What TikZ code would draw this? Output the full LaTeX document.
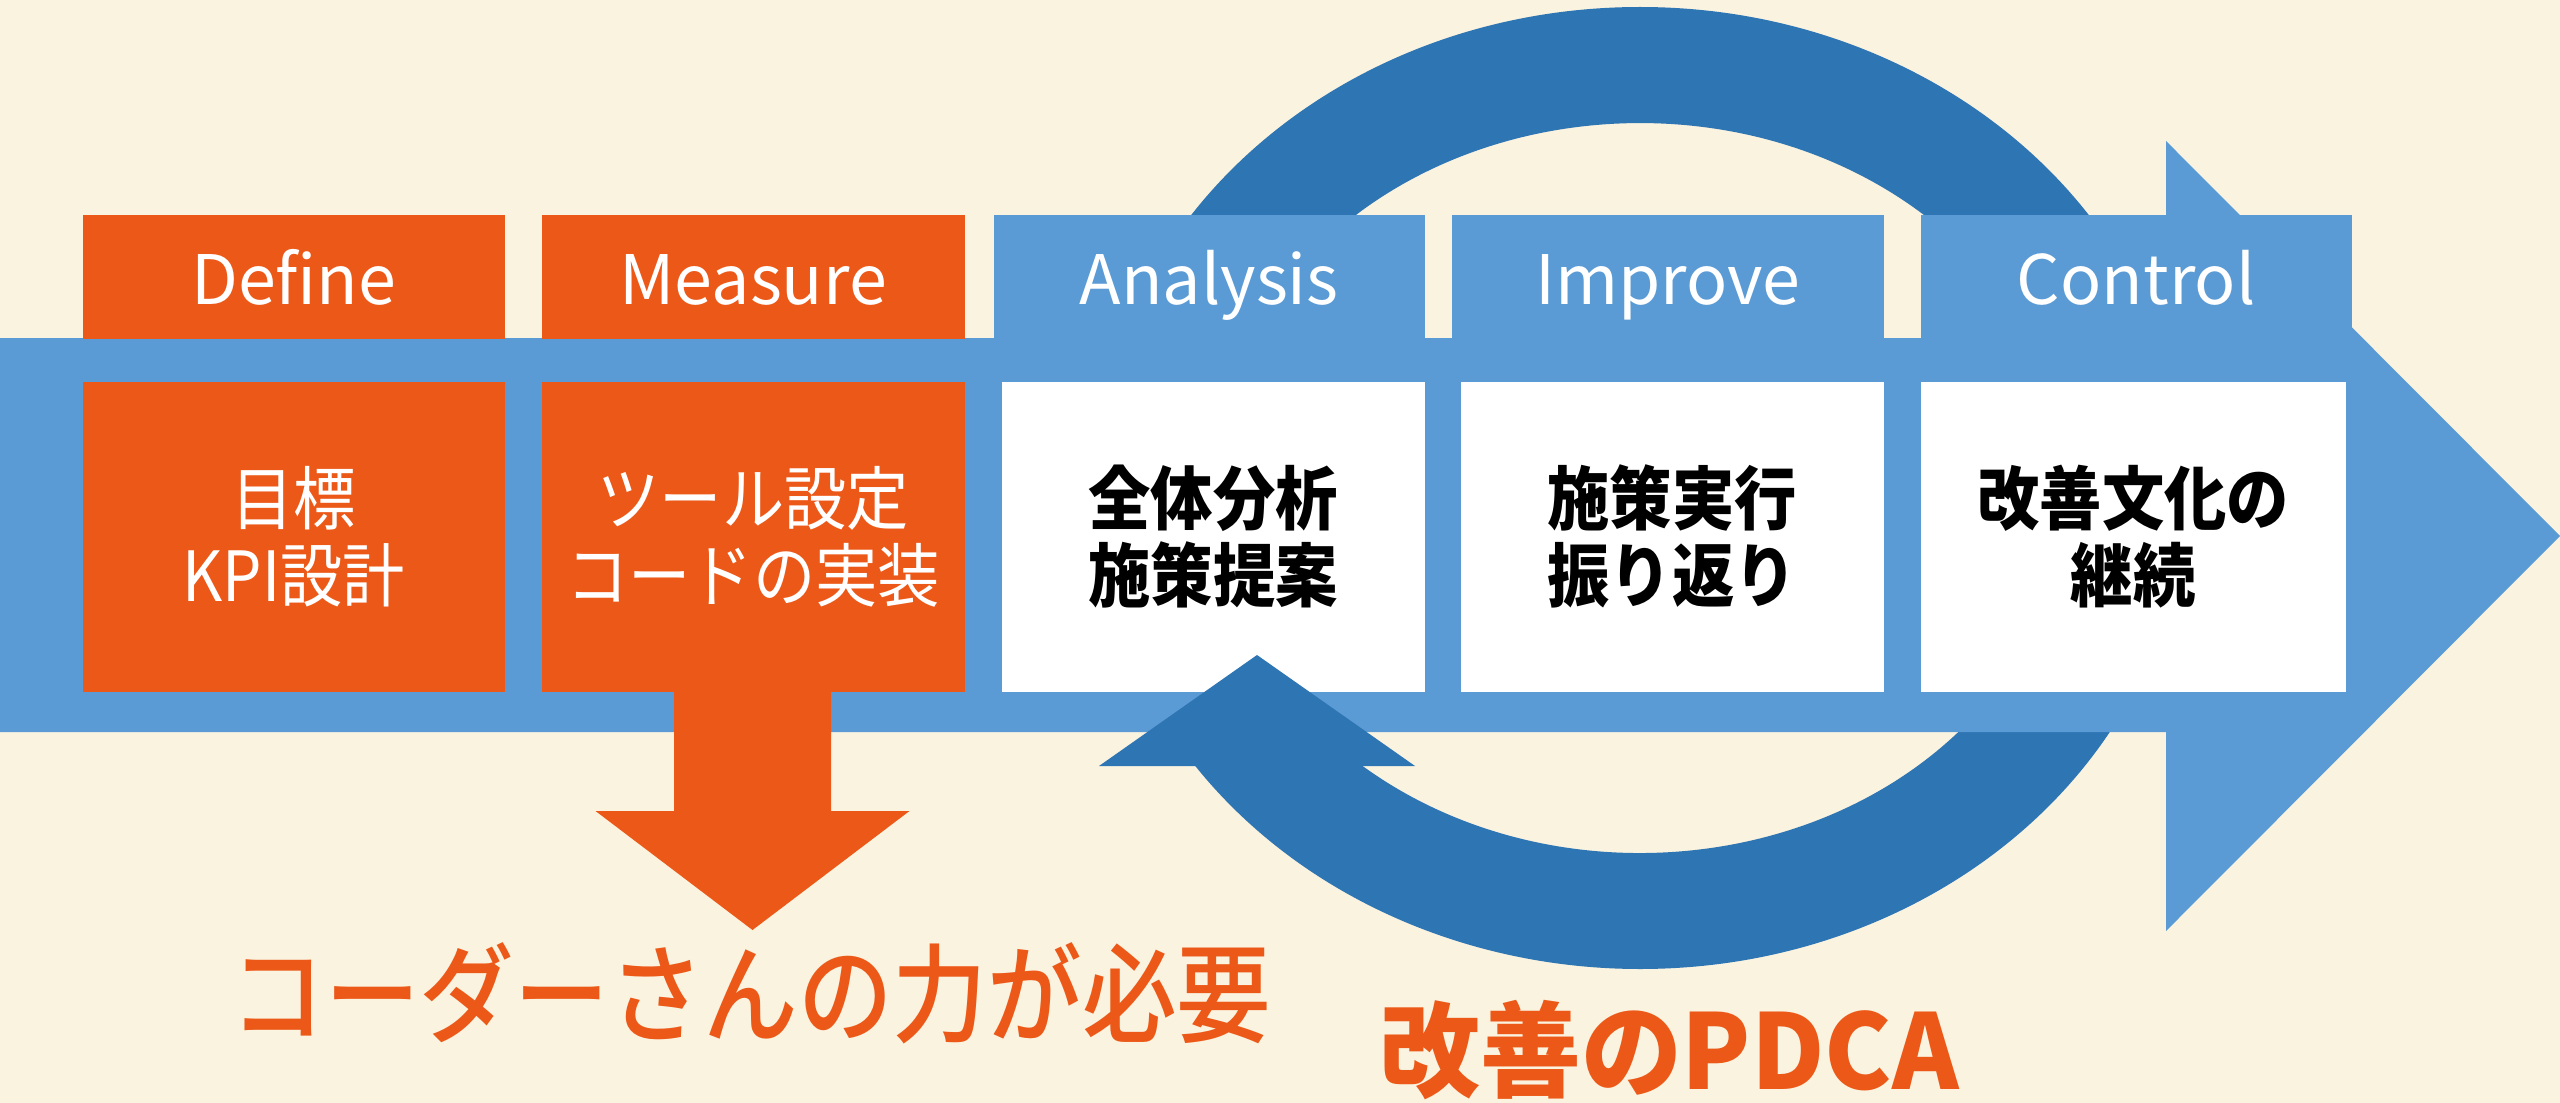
\documentclass[tikz,border=0pt]{standalone}
\usepackage{fontspec}
\setmainfont{Noto Sans CJK JP}
\newfontfamily\jp{Noto Sans CJK JP}[FakeStretch=0.9]
\newfontfamily\jpm{Noto Sans CJK JP Medium}[FakeStretch=0.88]
\newfontfamily\jpw{Noto Sans CJK JP}[FakeStretch=0.97]
\usetikzlibrary{calc}
\definecolor{bgc}{RGB}{250,243,224}
\definecolor{org}{RGB}{236,88,23}
\definecolor{ltb}{RGB}{91,155,213}
\definecolor{dkb}{RGB}{46,117,180}
\begin{document}
\begin{tikzpicture}[
  hdr/.style={anchor=north west, minimum height=1.24cm, inner sep=0pt, text=white,
    font=\fontsize{19.4}{23}\selectfont, text height=17pt, text depth=1.1pt},
  bdy/.style={anchor=north west, minimum height=3.10cm, inner sep=0pt, align=center,
    font=\jp\fontsize{19.7}{21.9}\selectfont},
  obox/.style={fill=org, text=white},
  wbox/.style={fill=white, text=black, font=\jp\bfseries\fontsize{19.7}{21.9}\selectfont},
  bigtxt/.style={text=org, inner sep=0pt, font=\jpm\fontsize{30.6}{34}\selectfont},
  pdcatxt/.style={text=org, inner sep=0pt, font=\jpw\bfseries\fontsize{29.6}{34}\selectfont}
]
\useasboundingbox (0,0) rectangle (25.6,-11.03);
\fill[bgc] (0,0) rectangle (25.6,-11.03);

% PDCA ring (behind the band)
\coordinate (C) at (16.40,-4.88);
\fill[dkb] ($(C)+(-5.45,0)$) arc[start angle=180,end angle=-144.7,x radius=5.45,y radius=4.81]
  -- ($(C)+(-2.774,-2.780)$) arc[start angle=-130.4,end angle=180,x radius=4.28,y radius=3.65] -- cycle;

% big light-blue arrow
\fill[ltb] (0,-3.38) -- (21.66,-3.38) -- (21.66,-1.41) -- (25.60,-5.36) -- (21.66,-9.31)
  -- (21.66,-7.32) -- (0,-7.32) -- cycle;

% headers
\node[hdr, fill=org, minimum width=4.22cm] (dh) at (0.82,-2.14) {Define};
\node[hdr, fill=org, minimum width=4.23cm] (mh) at (5.41,-2.14) {Measure};
\node[hdr, fill=ltb, minimum width=4.31cm] (ah) at (9.93,-2.14) {Analysis};
\node[hdr, fill=ltb, minimum width=4.32cm] (ih) at (14.51,-2.14) {Improve};
\node[hdr, fill=ltb, minimum width=4.31cm] (ch) at (19.20,-2.14) {Control};

% orange down arrow from Measure
\coordinate (ms) at (7.525,-6.91);
\fill[org] ($(ms)+(-0.785,0.05)$) -- ++(0,-1.25) -- ++(-0.785,0) -- ($(ms)+(0,-2.39)$)
  -- ($(ms)+(1.57,-1.20)$) -- ++(-0.785,0) -- ($(ms)+(0.785,0.05)$) -- cycle;

% bodies
\node[bdy, obox, minimum width=4.22cm] (db) at (0.82,-3.81) {目標\\KPI設計};
\node[bdy, obox, minimum width=4.23cm] (mb) at (5.41,-3.81) {ツール設定\\コードの実装};
\node[bdy, wbox, minimum width=4.23cm] (ab) at (10.01,-3.81) {全体分析\\施策提案};
\node[bdy, wbox, minimum width=4.23cm] (ib) at (14.60,-3.81) {施策実行\\振り返り};
\node[bdy, wbox, minimum width=4.25cm] (cb) at (19.20,-3.81) {改善文化の\\継続};

% PDCA arrowhead on top
\fill[dkb] (10.99,-7.66) -- (12.57,-6.55) -- (14.15,-7.66) -- cycle;

% captions
\node[bigtxt] (t1) at (7.51,-9.93) {コーダーさんの力が必要};
\node[pdcatxt] (t2) at (16.69,-10.50) {改善のPDCA};
\end{tikzpicture}
\end{document}
